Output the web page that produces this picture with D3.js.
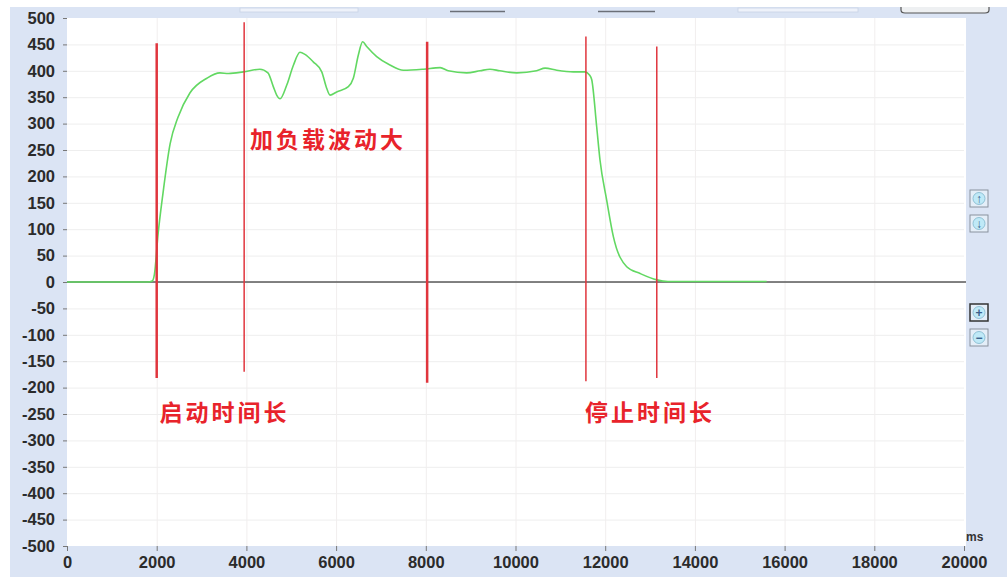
<!DOCTYPE html>
<html><head><meta charset="utf-8">
<script src="https://cdn.jsdelivr.net/npm/d3@7"></script>
<style>
html,body{margin:0;padding:0;background:#fff;}
svg{display:block;}
</style></head>
<body>
<svg id="c" width="1007" height="577"></svg>
<script>
// ---- data ----
const timeMs = [0,1000,1800,1900,1950,2030,2140,2300,2475,2740,3120,3410,3600,3930,4300,4480,4600,4675,4750,4900,5050,5195,5306,5490,5680,5790,5865,6013,6273,6384,6496,6592,6682,6905,7200,7500,7950,8320,8500,8910,9210,9430,9650,10030,10470,10660,10920,11290,11550,11650,11700,11810,11884,12033,12182,12480,12780,13150,13400,15600];
const speed  = [0,0,0,2,15,90,168,262,312,358,386,396,395,398,403,396,370,354,347,373,411,435,431,417,398,367,354,360,370,386,430,455,446,427,411,401,403,406,400,396,400,403,400,396,400,405,401,398,398,392,383,294,231,155,86,29,16,4,1,1];
const markerTimes  = [2000,3950,8030,11570,13150];
const markerTop    = [452,492,455,465,446];
const markerBottom = [-182,-170,-191,-188,-182];
const markerWidth  = [2.5,1.5,2.5,1.5,1.5];
const yTicks = [500,450,400,350,300,250,200,150,100,50,0,-50,-100,-150,-200,-250,-300,-350,-400,-450,-500];
const xTicks = [0,2000,4000,6000,8000,10000,12000,14000,16000,18000,20000];
const notes = [
  {text:"加负载波动大", t:4080, v:253},
  {text:"启动时间长", t:2060, v:-263},
  {text:"停止时间长", t:11550, v:-263}
];
const xUnit = "ms";

// ---- drawing ----
const svg = d3.select("#c");
const x = d3.scaleLinear().domain([0,20000]).range([67,964]);
const y = d3.scaleLinear().domain([-500,500]).range([546,18]);
const font = "'Liberation Sans', Arial, sans-serif";

// background panel
svg.append("rect").attr("x",10).attr("y",7).attr("width",997).attr("height",570).attr("fill","#dbe4f4");
// top toolbar hints
const tb = svg.append("g");
tb.append("rect").attr("x",240).attr("y",8).attr("width",118).attr("height",4).attr("fill","#eef2fa").attr("stroke","#c9d3e6").attr("stroke-width",0.8);
tb.append("rect").attr("x",738).attr("y",8).attr("width",120).attr("height",4).attr("fill","#eef2fa").attr("stroke","#c9d3e6").attr("stroke-width",0.8);
tb.append("line").attr("x1",450).attr("x2",505).attr("y1",11.5).attr("y2",11.5).attr("stroke","#6b6f78").attr("stroke-width",1.5);
tb.append("line").attr("x1",598).attr("x2",655).attr("y1",11.5).attr("y2",11.5).attr("stroke","#6b6f78").attr("stroke-width",1.5);
tb.append("path").attr("d","M901,7 L901,10 Q901,13 905,13 L985,13 Q989,13 989,10 L989,7").attr("fill","#eef0f2").attr("stroke","#555",).attr("stroke-width",1.2);

// plot area
svg.append("rect").attr("x",x(0)).attr("y",y(500)).attr("width",x(20000)-x(0)+2).attr("height",y(-500)-y(500)).attr("fill","#ffffff");

// grid
const grid = svg.append("g");
grid.selectAll("line.h").data(yTicks.filter(d=>d!==500 && d!==-500)).join("line")
  .attr("x1",x(0)).attr("x2",x(20000)).attr("y1",d=>y(d)+0.5).attr("y2",d=>y(d)+0.5)
  .attr("stroke","#eeeeee").attr("stroke-width",1);
grid.selectAll("line.v").data(xTicks.filter(d=>d>0 && d<20000)).join("line")
  .attr("x1",d=>x(d)+0.5).attr("x2",d=>x(d)+0.5).attr("y1",y(500)).attr("y2",y(-500))
  .attr("stroke","#f1eeee").attr("stroke-width",1);

// zero line
svg.append("line").attr("x1",x(0)).attr("x2",x(20000)+2).attr("y1",y(0)).attr("y2",y(0))
  .attr("stroke","#5a5a5a").attr("stroke-width",1.4);

// axes
const yAxis = svg.append("g").attr("transform",`translate(${x(0)},0)`)
  .call(d3.axisLeft(y).tickValues(yTicks).tickFormat(d=>String(d)).tickSize(4).tickPadding(8));
yAxis.select(".domain").remove();
yAxis.selectAll("line").attr("stroke","#777");
yAxis.selectAll("text").attr("font-family",font).attr("font-weight","bold").attr("font-size",16.5).attr("fill","#2b2b2b");

const xAxis = svg.append("g").attr("transform",`translate(0,${y(-500)})`)
  .call(d3.axisBottom(x).tickValues(xTicks).tickFormat(d=>String(d)).tickSize(5).tickPadding(5));
xAxis.select(".domain").remove();
xAxis.selectAll("line").attr("stroke","#777");
xAxis.selectAll("text").attr("font-family",font).attr("font-weight","bold").attr("font-size",16.5).attr("fill","#2b2b2b");

svg.append("text").attr("x",x(20000)+2).attr("y",y(-500)-5).text(xUnit)
  .attr("font-family",font).attr("font-weight","bold").attr("font-size",12).attr("fill","#333");

// curve
const pts = timeMs.map((t,i)=>[t,speed[i]]);
svg.append("path").datum(pts)
  .attr("d",d3.line().x(d=>x(d[0])).y(d=>y(d[1])).curve(d3.curveMonotoneX))
  .attr("fill","none").attr("stroke","#62d862").attr("stroke-width",1.6);

// red markers
svg.selectAll("line.mk").data(markerTimes).join("line")
  .attr("x1",d=>x(d)).attr("x2",d=>x(d))
  .attr("y1",(d,i)=>y(markerTop[i])).attr("y2",(d,i)=>y(markerBottom[i]))
  .attr("stroke","#e0353d").attr("stroke-width",(d,i)=>markerWidth[i]);

// annotations
svg.selectAll("text.note").data(notes).join("text")
  .attr("x",d=>x(d.t)).attr("y",d=>y(d.v)).text(d=>d.text)
  .attr("font-family","'Noto Sans CJK SC', sans-serif").attr("font-weight","bold")
  .attr("font-size",23).attr("letter-spacing",3).attr("fill","#e8232b");

// side buttons
const btn = svg.append("g");
const btnY = [190,215,304,329];
const btnSym = ["↑","↓","+","−"];
btnY.forEach((by,i)=>{
  btn.append("rect").attr("x",970).attr("y",by).attr("width",18).attr("height",17)
    .attr("fill","#e4eef8").attr("stroke", i===2?"#333":"#8a929e").attr("stroke-width",i===2?1.5:1);
  btn.append("circle").attr("cx",979).attr("cy",by+8.5).attr("r",6).attr("fill","#bfe9f7").attr("stroke","#7fb6cc").attr("stroke-width",0.8);
  btn.append("text").attr("x",979).attr("y",by+13).attr("text-anchor","middle").text(btnSym[i])
    .attr("font-family",font).attr("font-weight","bold").attr("font-size",12).attr("fill","#3a5f8a");
});
</script>
</body></html>
